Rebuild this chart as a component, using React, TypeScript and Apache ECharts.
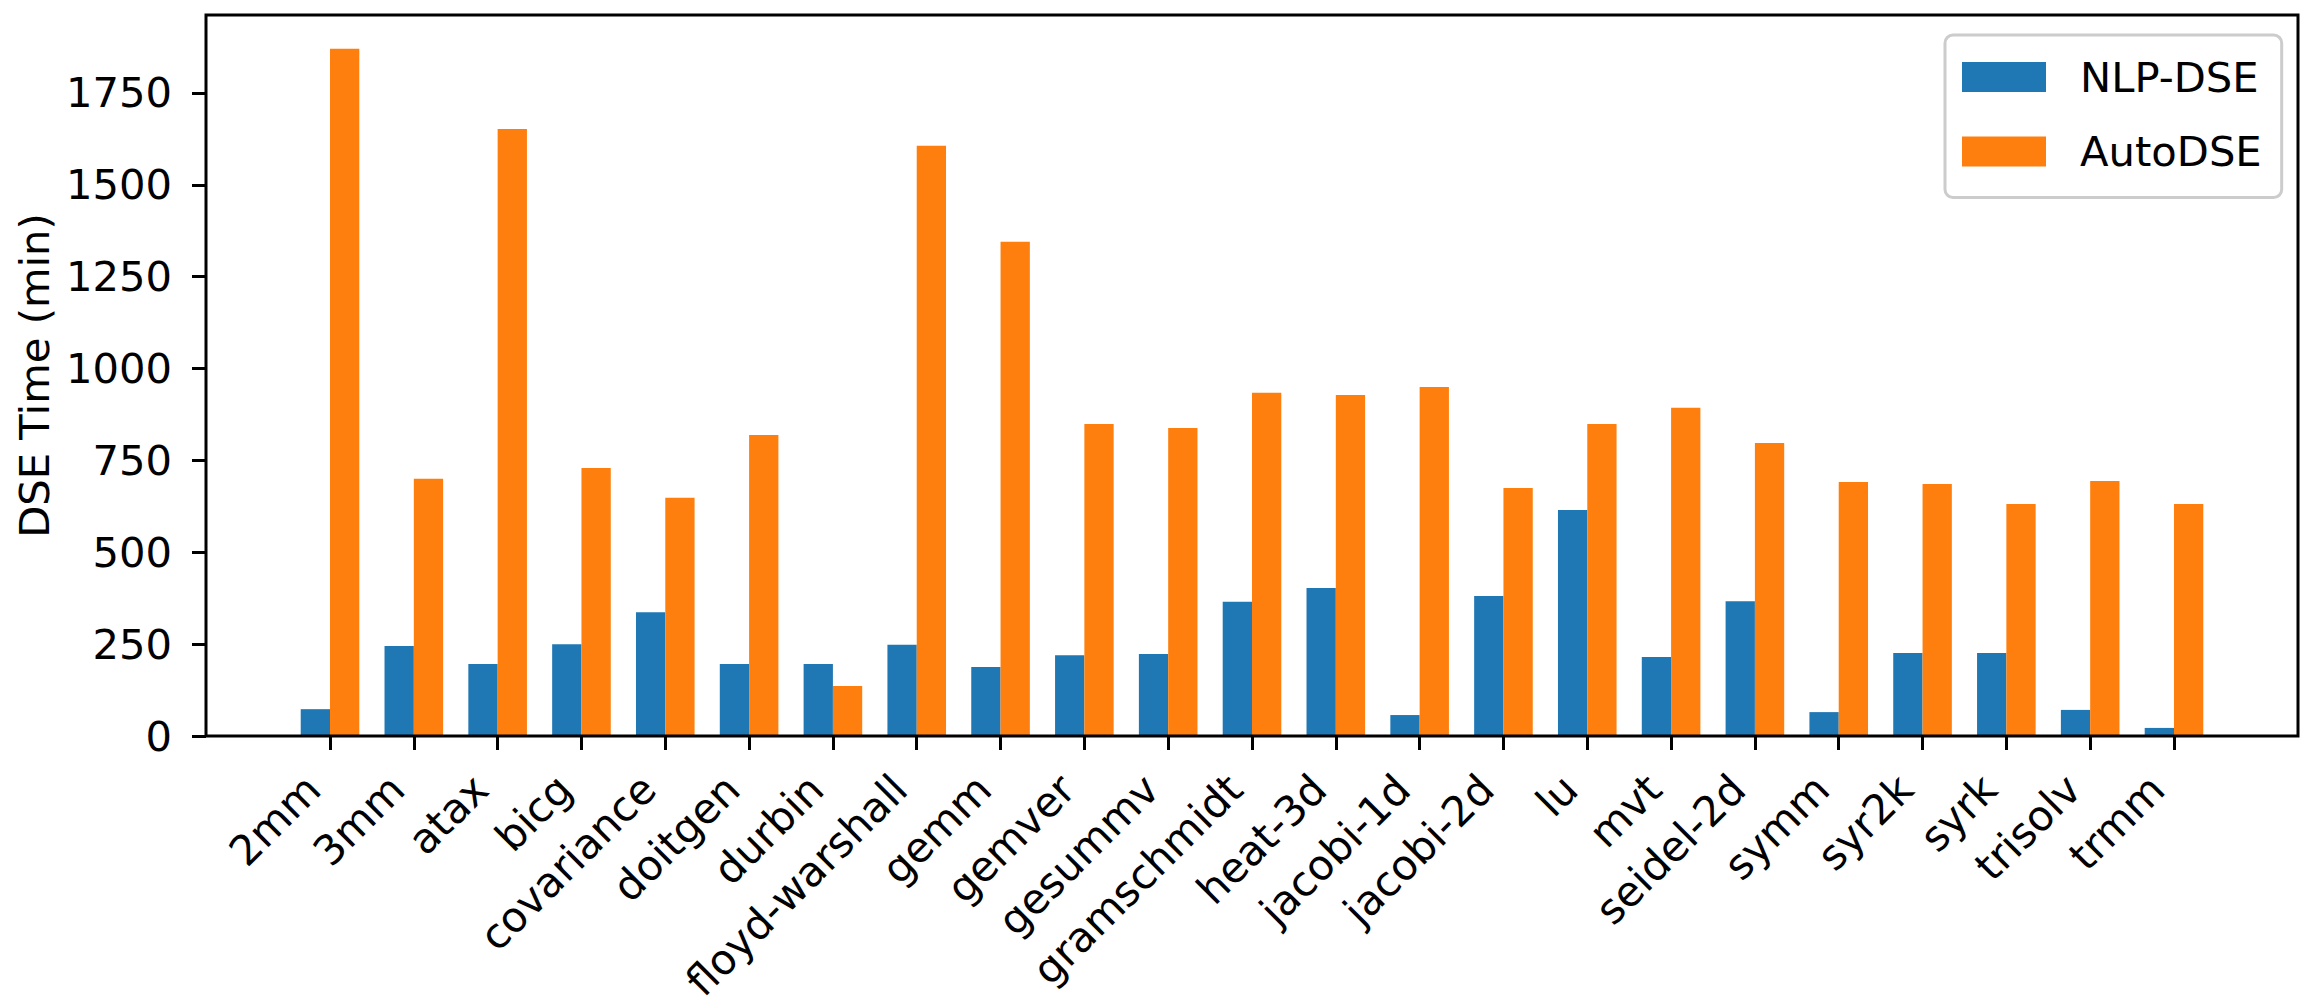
import React, { useEffect, useRef } from "react";
import * as echarts from "echarts";

const categories = [
  "2mm", "3mm", "atax", "bicg", "covariance", "doitgen", "durbin", "floyd-warshall",
  "gemm", "gemver", "gesummv", "gramschmidt", "heat-3d", "jacobi-1d", "jacobi-2d",
  "lu", "mvt", "seidel-2d", "symm", "syr2k", "syrk", "trisolv", "trmm",
];
const nlpDse = [73, 245, 196, 250, 337, 196, 196, 248, 188, 220, 223, 365, 403, 57, 381, 615, 215, 367, 65, 226, 226, 71, 22];
const autoDse = [1870, 700, 1652, 729, 648, 819, 136, 1606, 1345, 849, 838, 934, 928, 950, 675, 849, 893, 797, 691, 686, 631, 694, 631];
const yTicks = [0, 250, 500, 750, 1000, 1250, 1500, 1750];
const yMax = 1962;

const FONT = "DejaVu Sans";
const FS = 41.7;

export default function App() {
  const ref = useRef<HTMLDivElement>(null);
  useEffect(() => {
    if (!ref.current) return;
    const chart = echarts.init(ref.current, null, { renderer: "svg" });
    const W = 2320;
    const frameL = 206, frameR = 2298, frameT = 15, frameB = 736;
    const gridL = 288.1, gridR = 2215.9;
    chart.setOption({
      animation: false,
      backgroundColor: "#ffffff",
      textStyle: { fontFamily: FONT },
      grid: { left: gridL, right: W - gridR, top: frameT, bottom: 1006 - frameB, containLabel: false },
      legend: {
        orient: "vertical",
        left: 1945,
        top: 35,
        padding: [21, 20, 25, 17],
        backgroundColor: "rgba(255,255,255,0.8)",
        borderColor: "#cccccc",
        borderWidth: 3,
        borderRadius: 8,
        itemWidth: 84,
        itemHeight: 30,
        itemGap: 32.5,
        icon: "rect",
        itemStyle: { borderWidth: 0 },
        textStyle: { fontFamily: FONT, fontSize: FS, color: "#000", lineHeight: 30, padding: [0, 0, 0, 29] },
        data: ["NLP-DSE", "AutoDSE"],
      },
      xAxis: {
        type: "category",
        data: categories,
        boundaryGap: true,
        axisLine: { show: false },
        axisTick: { show: true, alignWithLabel: true, length: 14, lineStyle: { color: "#000", width: 3 } },
        axisLabel: {
          interval: 0,
          rotate: 45,
          margin: 29,
          padding: [0, 24, 0, 0],
          fontFamily: FONT,
          fontSize: FS,
          color: "#000",
        },
        splitLine: { show: false },
      },
      yAxis: {
        type: "value",
        min: 0,
        max: yMax,
        interval: 250,
        offset: gridL - frameL,
        name: "DSE Time (min)",
        nameLocation: "middle",
        nameRotate: 90,
        nameGap: 150,
        nameTextStyle: { fontFamily: FONT, fontSize: FS, color: "#000" },
        axisLine: { show: false },
        axisTick: { show: true, length: 14, lineStyle: { color: "#000", width: 3 }, customValues: yTicks },
        axisLabel: {
          margin: 34,
          fontFamily: FONT,
          fontSize: FS,
          color: "#000",
          customValues: yTicks,
          formatter: (v: number) => String(v),
        },
        splitLine: { show: false },
      },
      series: [
        {
          name: "NLP-DSE",
          type: "bar",
          data: nlpDse,
          barWidth: 29.3,
          barGap: "0%",
          itemStyle: { color: "#1f77b4" },
        },
        {
          name: "AutoDSE",
          type: "bar",
          data: autoDse,
          barWidth: 29.3,
          barGap: "0%",
          itemStyle: { color: "#ff7f0e" },
        },
      ],
      graphic: [
        {
          type: "rect",
          z: 100,
          silent: true,
          shape: { x: frameL, y: frameT, width: frameR - frameL, height: frameB - frameT },
          style: { fill: "none", stroke: "#000", lineWidth: 3 },
        },
      ],
    });
    return () => chart.dispose();
  }, []);
  return (
    <div
      ref={ref}
      style={{ position: "fixed", left: 0, top: 0, width: 2320, height: 1006, background: "#fff" }}
    />
  );
}
